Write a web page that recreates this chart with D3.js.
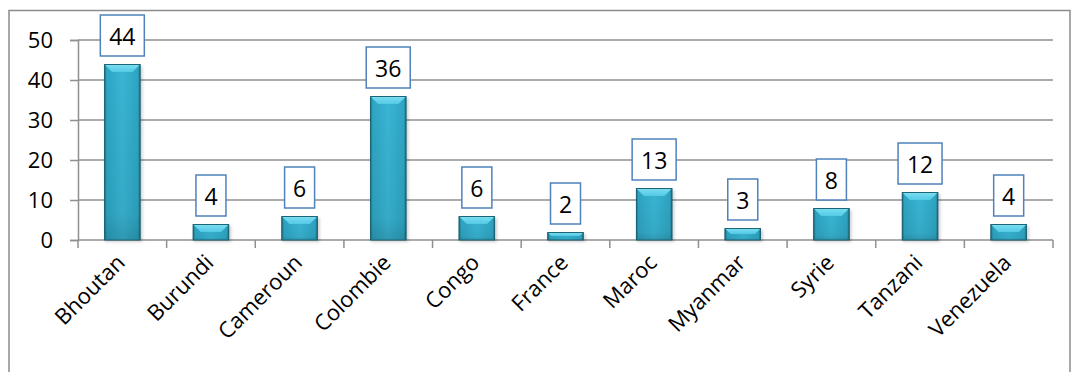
<!DOCTYPE html>
<html>
<head>
<meta charset="utf-8">
<script src="https://cdn.jsdelivr.net/npm/d3@7"></script>
<style>
  html, body { margin: 0; padding: 0; background: #fff; }
  svg { display: block; font-family: "Open Sans", "Noto Sans", sans-serif; }
</style>
</head>
<body>
<svg id="chart" width="1072" height="372"></svg>
<script>
// Country counts
const categories = ["Bhoutan", "Burundi", "Cameroun", "Colombie", "Congo", "France",
                    "Maroc", "Myanmar", "Syrie", "Tanzani", "Venezuela"];
const values = [44, 4, 6, 36, 6, 2, 13, 3, 8, 12, 4];
const yTicks = [0, 10, 20, 30, 40, 50];

const svg = d3.select("#chart");
const plotLeft = 78, plotRight = 1053, plotTop = 40, plotBottom = 240;

// Outer frame
svg.append("rect")
  .attr("x", 9).attr("y", 10.5)
  .attr("width", 1061).attr("height", 370)
  .attr("fill", "none").attr("stroke", "#8c8c8c").attr("stroke-width", 1.5);

const x = d3.scaleBand().domain(categories).range([plotLeft, plotRight]).paddingInner(0.59).paddingOuter(0.295);
const y = d3.scaleLinear().domain([0, 50]).range([plotBottom, plotTop]);

// Bar gradients
const defs = svg.append("defs");
const side = defs.append("linearGradient").attr("id", "barSide")
  .attr("x1", "0").attr("x2", "1").attr("y1", "0").attr("y2", "0");
side.append("stop").attr("offset", "0").attr("stop-color", "#1d6878");
side.append("stop").attr("offset", "0.07").attr("stop-color", "#2ea5c3");
side.append("stop").attr("offset", "0.5").attr("stop-color", "#39b5d4");
side.append("stop").attr("offset", "0.93").attr("stop-color", "#2ea5c3");
side.append("stop").attr("offset", "1").attr("stop-color", "#1d6878");
const topFace = defs.append("linearGradient").attr("id", "barTop")
  .attr("x1", "0").attr("x2", "0").attr("y1", "0").attr("y2", "1");
topFace.append("stop").attr("offset", "0").attr("stop-color", "#7ee0f3");
topFace.append("stop").attr("offset", "1").attr("stop-color", "#52c9e5");
const shade = defs.append("linearGradient").attr("id", "barShade")
  .attr("x1", "0").attr("x2", "0").attr("y1", "0").attr("y2", "1");
shade.append("stop").attr("offset", "0").attr("stop-color", "#000").attr("stop-opacity", 0);
shade.append("stop").attr("offset", "0.85").attr("stop-color", "#000").attr("stop-opacity", 0.06);
shade.append("stop").attr("offset", "1").attr("stop-color", "#000").attr("stop-opacity", 0.16);
const blur = defs.append("filter").attr("id", "soft").attr("x", "-20%").attr("y", "-20%")
  .attr("width", "140%").attr("height", "140%");
blur.append("feGaussianBlur").attr("stdDeviation", 1.5);

// Gridlines
svg.append("g").selectAll("line").data(yTicks.filter(d => d > 0)).join("line")
  .attr("x1", plotLeft).attr("x2", plotRight)
  .attr("y1", d => y(d)).attr("y2", d => y(d))
  .attr("stroke", "#8f8f8f").attr("stroke-width", 1.5);

// Y axis (lines from d3.axisLeft, labels drawn below)
const yAxis = svg.append("g").attr("transform", `translate(${plotLeft},0)`)
  .call(d3.axisLeft(y).tickValues(yTicks).tickSize(8).tickFormat(""));
yAxis.select(".domain").attr("stroke", "#8f8f8f").attr("stroke-width", 1.5);
yAxis.selectAll(".tick line").attr("stroke", "#8f8f8f").attr("stroke-width", 1.5);
svg.append("g").selectAll("text").data(yTicks).join("text")
  .attr("x", 53)
  .attr("y", d => y(d))
  .attr("dy", "0.36em")
  .attr("text-anchor", "end")
  .attr("font-size", 22)
  .attr("fill", "#000")
  .text(d => d);

// X axis with boundary ticks
const xAxisG = svg.append("g");
xAxisG.append("line").attr("x1", plotLeft).attr("x2", plotRight)
  .attr("y1", plotBottom).attr("y2", plotBottom)
  .attr("stroke", "#8f8f8f").attr("stroke-width", 1.5);
const step = x.step();
xAxisG.selectAll("line.tk").data(d3.range(categories.length + 1)).join("line")
  .attr("class", "tk")
  .attr("x1", i => plotLeft + i * step).attr("x2", i => plotLeft + i * step)
  .attr("y1", plotBottom).attr("y2", plotBottom + 8)
  .attr("stroke", "#8f8f8f").attr("stroke-width", 1.5);

// Category labels
xAxisG.selectAll("text").data(categories).join("text")
  .attr("transform", d => `translate(${x(d) + x.bandwidth() / 2 + 4},${plotBottom + 24}) rotate(-45)`)
  .attr("text-anchor", "end")
  .attr("font-size", 22)
  .attr("fill", "#000")
  .text(d => d);

// Bars
const bw = x.bandwidth();
const bev = 8;
const bars = svg.append("g").selectAll("g").data(values).join("g")
  .attr("transform", (d, i) => `translate(${x(categories[i])},0)`);
bars.append("rect")
  .attr("x", 1).attr("y", d => y(d) + 2).attr("width", bw + 1).attr("height", d => plotBottom - y(d))
  .attr("fill", "#000").attr("opacity", 0.18).attr("filter", "url(#soft)");
bars.append("rect")
  .attr("x", 0).attr("y", d => y(d)).attr("width", bw).attr("height", d => plotBottom - y(d))
  .attr("fill", "url(#barSide)");
bars.append("rect")
  .attr("x", 0).attr("y", d => y(d)).attr("width", bw).attr("height", d => plotBottom - y(d))
  .attr("fill", "url(#barShade)");
bars.append("path")
  .attr("d", d => {
    const t = y(d), b = Math.min(bev, (plotBottom - y(d)) / 2);
    return `M0,${t}H${bw}L${bw - b},${t + b}H${b}Z`;
  })
  .attr("fill", "url(#barTop)");
bars.append("rect")
  .attr("x", 0.5).attr("y", d => y(d) + 0.5).attr("width", bw - 1).attr("height", d => plotBottom - y(d) - 0.5)
  .attr("fill", "none").attr("stroke", "#1d6474").attr("stroke-width", 1);

// Value labels in boxes
const labels = svg.append("g").selectAll("g").data(values).join("g")
  .attr("transform", (d, i) => `translate(${x(categories[i]) + bw / 2},${y(d) - 8})`);
labels.append("rect")
  .attr("x", d => -(String(d).length > 1 ? 22 : 15))
  .attr("width", d => String(d).length > 1 ? 44 : 30)
  .attr("y", -41).attr("height", 41)
  .attr("fill", "#fff").attr("stroke", "#4f81bd").attr("stroke-width", 1.5);
labels.append("text")
  .attr("y", -11)
  .attr("text-anchor", "middle")
  .attr("font-size", 23)
  .attr("fill", "#000")
  .text(d => d);
</script>
</body>
</html>
